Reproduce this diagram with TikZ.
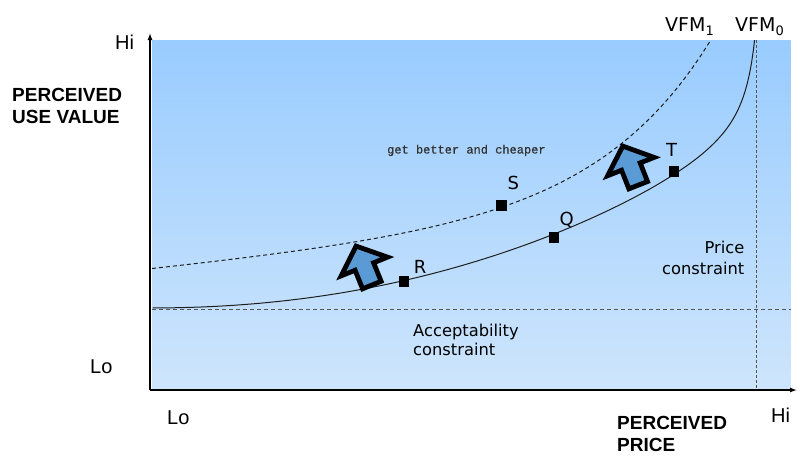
\documentclass[tikz,border=0pt]{standalone}
\usepackage{fontspec}
\newfontfamily\verd{DejaVu Sans}
\newfontfamily\ari{Liberation Sans}
\newfontfamily\mono[FakeBold=0.5]{Liberation Mono}
\usetikzlibrary{arrows.meta}
\definecolor{topblue}{RGB}{153,204,255}
\definecolor{botblue}{RGB}{206,229,252}
\definecolor{arrowblue}{RGB}{91,155,213}
\definecolor{guide}{RGB}{85,85,85}
\definecolor{curvecol}{RGB}{30,30,30}
\definecolor{notecol}{RGB}{50,50,50}
\begin{document}
\begin{tikzpicture}[x=1pt,y=-1pt,
  axis/.style={line width=1.3pt,-{Latex[length=7pt,width=5pt]}},
  guideline/.style={guide,line width=1.2pt,dash pattern=on 4pt off 3pt},
  guidedot/.style={guide,line width=1.4pt,dash pattern=on 3pt off 2pt},
  vfmzero/.style={curvecol,line width=1pt},
  vfmone/.style={curvecol,line width=1pt,dash pattern=on 4pt off 3pt},
  pt/.style={fill=black,draw=none,minimum size=10.5pt,inner sep=0pt,rectangle},
  ptlabel/.style={font=\verd\fontsize{18}{20}\selectfont,inner sep=0pt,anchor=base},
  constr/.style={font=\verd\fontsize{16.3}{18.3}\selectfont,inner sep=0pt},
  axlevel/.style={font=\ari\fontsize{20}{22}\selectfont,inner sep=0pt,anchor=base west},
  axtitle/.style={font=\ari\bfseries\fontsize{19}{22}\selectfont,inner sep=0pt,align=left},
  vfm/.style={font=\verd\fontsize{19}{22}\selectfont,inner sep=0pt,anchor=base west},
  bigarrow/.style={draw=black,fill=arrowblue,line width=4.8pt,line join=miter}
]
\useasboundingbox (0,0) rectangle (808,467);
% plot area
\shade[top color=topblue,bottom color=botblue] (152,40) rectangle (790.5,390);
% constraint guides
\coordinate (accL) at (152,309.3);
\coordinate (accR) at (790.5,309.3);
\coordinate (priT) at (756.7,40);
\coordinate (priB) at (756.7,390);
\draw[guideline] (accL) -- (accR);
\draw[guidedot] (priT) -- (priB);
% axes
\coordinate (origin) at (150,390);
\coordinate (ytip) at (150,33);
\coordinate (xtip) at (797,390);
\draw[axis] (origin) -- (ytip);
\draw[axis] (origin) -- (xtip);
% VFM curves
\begin{scope}
  \clip (152,40) rectangle (790.5,390);
  \draw[vfmzero] plot[domain=152.5:757.5,samples=300,variable=\t]
    ({\t},{308 - 26*pow((\t-152)/252,2.12) - 1300*(1/(767-\t) - 1/615)});
  \draw[vfmone] plot[domain=152:718,samples=250,variable=\t]
    ({\t},{268.5 - 0.1*(\t-152) - 1.27*(exp(0.0088*(\t-152)) - 1)});
\end{scope}
% points
\node[pt] (R) at (404,281.7) {};
\node[pt] (Q) at (554,237.7) {};
\node[pt] (S) at (501.7,205.7) {};
\node[pt] (T) at (674,171.7) {};
\node[ptlabel] (Rl) at (420,273.3) {R};
\node[ptlabel] (Ql) at (566.7,225) {Q};
\node[ptlabel] (Sl) at (513.3,189.3) {S};
\node[ptlabel] (Tl) at (671.7,156.7) {T};
% block arrows
\begin{scope}[shift={(356.1,246.1)},rotate=22]
  \draw[bigarrow] (0,0) -- (25,22) -- (10,22) -- (10,42) -- (-10,42) -- (-10,22) -- (-25,22) -- cycle;
\end{scope}
\begin{scope}[shift={(622.8,146.1)},rotate=21.5]
  \draw[bigarrow] (0,0) -- (25,22) -- (10,22) -- (10,42) -- (-10,42) -- (-10,22) -- (-25,22) -- cycle;
\end{scope}
% texts
\node[font=\mono\fontsize{12}{14}\selectfont,text=notecol,inner sep=0pt,anchor=base west] (note) at (387,153.5) {get better and cheaper};
\node[constr,align=right,anchor=base east] (price) at (744.5,274.3) {Price\\[2.7pt]constraint};
\node[constr,align=left,anchor=base west] (accept) at (413,355) {Acceptability\\constraint};
\node[axlevel] (hiY) at (115,49.3) {Hi};
\node[axlevel] (loY) at (90,373) {Lo};
\node[axlevel] (loX) at (167,424) {Lo};
\node[axlevel] (hiX) at (771,422.5) {Hi};
\node[axtitle,anchor=base west] (ytitle) at (12,123) {PERCEIVED\\USE VALUE};
\node[axtitle,anchor=base west] (xtitle) at (617,451.7) {PERCEIVED\\PRICE};
\node[vfm] (vfm1) at (665,31.7) {VFM\raisebox{-3.5pt}{\fontsize{13}{13}\selectfont 1}};
\node[vfm] (vfm0) at (735,31.7) {VFM\raisebox{-3.5pt}{\fontsize{13}{13}\selectfont 0}};
\end{tikzpicture}
\end{document}
